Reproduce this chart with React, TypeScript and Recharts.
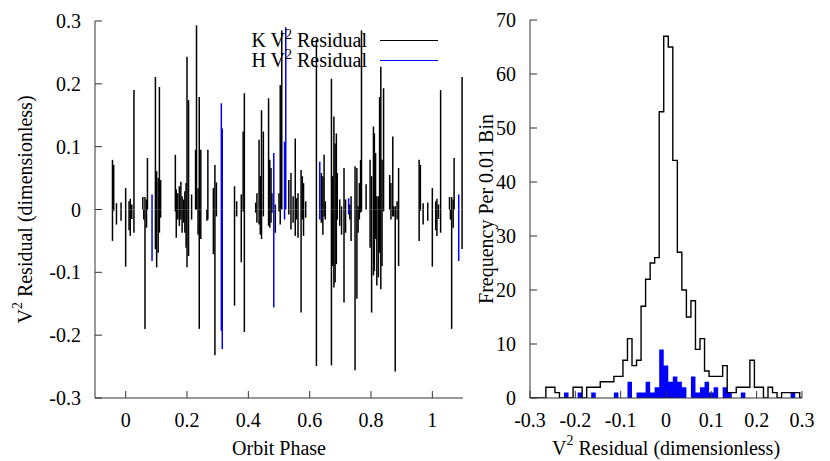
import React from "react";
import {
  ComposedChart, Scatter, ErrorBar, XAxis, YAxis, Line, Area, Legend,
} from "recharts";

// K band V^2 residuals vs orbit phase (one entry per impulse, phase folded to 0..1)
const kPhase = [
  0.000, 0.000, 0.011, 0.011, 0.015, 0.015, 0.020, 0.020, 0.027, 0.027,
  0.056, 0.059, 0.063, 0.063, 0.068, 0.068, 0.071,
  0.097, 0.097, 0.101, 0.101, 0.106, 0.106, 0.110, 0.110, 0.114, 0.114,
  0.162, 0.162, 0.165, 0.165, 0.170, 0.170, 0.175, 0.175, 0.180, 0.180,
  0.184, 0.184, 0.189, 0.189, 0.193, 0.193, 0.197, 0.197, 0.200, 0.200,
  0.205, 0.205, 0.215, 0.215, 0.228, 0.231, 0.236, 0.236, 0.240, 0.240,
  0.245, 0.245, 0.265, 0.268, 0.268, 0.286, 0.286, 0.291, 0.291, 0.296, 0.296,
  0.355, 0.355, 0.362, 0.362, 0.377, 0.377, 0.383, 0.383, 0.387, 0.387,
  0.424, 0.424, 0.428, 0.428, 0.435, 0.435, 0.439, 0.439, 0.443, 0.443,
  0.449, 0.449, 0.466, 0.466, 0.470, 0.470, 0.474, 0.474, 0.477, 0.477,
  0.488, 0.488, 0.500, 0.500, 0.504, 0.504, 0.509,
  0.532, 0.532, 0.539, 0.539, 0.546, 0.546, 0.553, 0.553, 0.557, 0.557,
  0.562, 0.562, 0.572, 0.572, 0.576, 0.576, 0.580, 0.580, 0.587, 0.587,
  0.622, 0.622, 0.638, 0.638, 0.643, 0.643, 0.647, 0.647, 0.651, 0.651,
  0.671, 0.671, 0.675, 0.675, 0.679, 0.679, 0.683, 0.683, 0.687, 0.687,
  0.690, 0.690, 0.698, 0.698, 0.704, 0.704, 0.712, 0.712, 0.717, 0.717,
  0.731, 0.731, 0.735, 0.735, 0.748, 0.748, 0.754, 0.754, 0.758, 0.758,
  0.762, 0.762, 0.766, 0.766, 0.769, 0.769, 0.784,
  0.797, 0.797, 0.802, 0.802, 0.808, 0.808, 0.811, 0.811, 0.815, 0.815,
  0.819, 0.819, 0.824, 0.824, 0.828, 0.828, 0.832, 0.832, 0.836, 0.836,
  0.841, 0.841, 0.861, 0.865, 0.865, 0.871, 0.871, 0.874, 0.874,
  0.879, 0.879, 0.885, 0.885, 0.890, 0.890,
  0.957, 0.957, 0.961, 0.961, 0.970, 0.970, 0.985, 0.985,
];
const kResid = [
  0.034, -0.091, 0.013, -0.033, 0.017, -0.042, 0.008, -0.015, 0.190, -0.037,
  0.020, -0.016, 0.020, -0.190, 0.016, -0.029, 0.082,
  0.211, -0.063, 0.061, -0.092, 0.050, -0.069, 0.195, -0.037, 0.047, -0.013,
  0.087, -0.003, 0.032, -0.045, 0.026, -0.016, 0.037, -0.026, 0.044, -0.016,
  0.021, -0.037, 0.016, -0.021, 0.029, -0.037, 0.042, -0.061, 0.243, -0.092,
  0.174, -0.074, 0.024, -0.016, 0.095, 0.293, 0.034, -0.040, 0.179, -0.190,
  0.095, -0.047, -0.018, 0.095, -0.016, 0.034, -0.071, 0.071, -0.232, 0.043, -0.011,
  0.037, -0.153, 0.013, -0.011, 0.024, -0.084, 0.124, -0.003, 0.185, -0.195,
  0.011, -0.005, 0.026, -0.021, 0.111, -0.024, 0.053, -0.040, 0.158, -0.047,
  0.124, -0.011, 0.177, -0.026, 0.079, -0.029, 0.066, -0.021, 0.026, -0.005,
  0.008, -0.037, 0.026, -0.003, 0.198, -0.024, 0.285,
  0.047, -0.008, 0.058, -0.032, 0.021, -0.021, 0.113, -0.042, 0.018, -0.016,
  0.026, -0.045, 0.063, -0.164, 0.053, -0.016, 0.042, -0.042, 0.013, -0.013,
  0.270, -0.249, 0.058, -0.021, 0.053, -0.040, 0.087, -0.011, 0.013, -0.016,
  0.208, -0.248, 0.053, -0.090, 0.148, -0.124, 0.105, -0.116, 0.121, -0.087,
  0.058, -0.016, 0.016, -0.026, 0.005, -0.040, 0.066, -0.148, 0.016, -0.037,
  0.008, -0.016, 0.021, -0.050, 0.069, -0.256, 0.066, -0.142, 0.005, -0.037,
  0.042, -0.016, 0.079, -0.005, 0.285, -0.003, 0.040,
  0.079, -0.061, 0.053, -0.164, 0.132, -0.105, 0.121, -0.098, 0.090, -0.047,
  0.021, -0.121, 0.021, -0.108, 0.179, -0.069, 0.227, -0.127, 0.079, -0.090,
  0.193, -0.003, 0.055, 0.042, -0.016, 0.116, -0.011, 0.005, -0.011,
  0.005, -0.258, 0.013, -0.016, 0.066, -0.090,
  0.079, -0.050, 0.071, -0.002, 0.010, -0.024, 0.011, -0.018,
];

// H band residuals
const hPhase = [0.086, 0.086, 0.312, 0.312, 0.315, 0.315, 0.483, 0.483, 0.518, 0.518, 0.522, 0.633, 0.633, 0.727, 0.727];
const hResid = [0.024, -0.082, 0.169, -0.193, 0.129, -0.222, 0.090, -0.156, 0.108, -0.016, 0.290, 0.076, -0.016, 0.018, -0.008];

const phaseTicks = [0, 0.2, 0.4, 0.6, 0.8, 1];
const residTicks = [-0.3, -0.2, -0.1, 0, 0.1, 0.2, 0.3];

// histogram, 0.01 bins
const binCenters = [
  -0.30, -0.29, -0.28, -0.27, -0.26, -0.25, -0.24, -0.23, -0.22, -0.21,
  -0.20, -0.19, -0.18, -0.17, -0.16, -0.15, -0.14, -0.13, -0.12, -0.11,
  -0.10, -0.09, -0.08, -0.07, -0.06, -0.05, -0.04, -0.03, -0.02, -0.01,
  0.00, 0.01, 0.02, 0.03, 0.04, 0.05, 0.06, 0.07, 0.08, 0.09,
  0.10, 0.11, 0.12, 0.13, 0.14, 0.15, 0.16, 0.17, 0.18, 0.19,
  0.20, 0.21, 0.22, 0.23, 0.24, 0.25, 0.26, 0.27, 0.28, 0.29,
  0.30,
];
const kCounts = [
  0, 0, 0, 0, 2, 2, 1, 0, 0, 0,
  2, 2, 0, 2, 2, 2, 3, 3, 3, 4,
  4, 7, 11, 6, 7, 17, 22, 25, 26, 53,
  67, 65, 44, 27, 20, 15, 18, 9, 11, 5,
  4, 4, 4, 6, 1, 1, 2, 2, 2, 7,
  2, 2, 0, 2, 1, 0, 1, 1, 1, 1,
  0,
];
const hCounts = [
  0, 0, 0, 0, 0, 0, 0, 0, 1, 0,
  0, 1, 0, 0, 1, 0, 0, 0, 0, 1,
  0, 0, 3, 0, 1, 1, 3, 1, 2, 9,
  6, 3, 4, 3, 2, 0, 4, 1, 2, 3,
  1, 2, 0, 2, 1, 0, 0, 1, 0, 0,
  0, 0, 0, 0, 0, 0, 0, 0, 1, 0,
  0,
];
const residBinTicks = [-0.3, -0.2, -0.1, 0, 0.1, 0.2, 0.3];
const freqTicks = [0, 10, 20, 30, 40, 50, 60, 70];

const FONT = '"Liberation Serif", "DejaVu Serif", serif';
const AXIS = "#333";
const tickStyle = { fill: "#000", fontSize: 20, fontFamily: FONT };

// impulses: error bar from 0 to the value; repeat across the shown phase range
function impulses(phase: number[], resid: number[]) {
  const rows: any[] = [];
  phase.forEach((p, i) => {
    const v = resid[i];
    [-1, 0, 1].forEach((s) => {
      const x = p + s;
      if (x < -0.1 || x > 1.1) return;
      rows.push({ x, v, err: v > 0 ? [v, 0] : [0, -v] });
    });
  });
  return rows;
}
const kRows = impulses(kPhase, kResid);
const hRows = impulses(hPhase, hResid);

const histRows = binCenters.map((c, i) => ({ x: c - 0.005, k: kCounts[i], h: hCounts[i] }));
histRows.push({ x: binCenters[binCenters.length - 1] + 0.005, k: kCounts[kCounts.length - 1], h: hCounts[hCounts.length - 1] });

const noShape = () => <g />;

const V2 = ({ rest }: { rest: string }) => (
  <>
    V<tspan dy={-8} fontSize={14}>2</tspan><tspan dy={8}>{rest}</tspan>
  </>
);

const AxisText = ({ x, y, rotate, children }: any) => (
  <text
    x={x} y={y} textAnchor="middle" dominantBaseline="central"
    fontSize={20} fontFamily={FONT} fill="#000"
    transform={rotate ? `rotate(-90 ${x} ${y})` : undefined}
  >
    {children}
  </text>
);

const LegendBox = () => {
  const row = (label: string, color: string) => (
    <div style={{ display: "flex", alignItems: "center", height: 20 }}>
      <span style={{ width: 127, textAlign: "right", fontSize: 20, lineHeight: "20px", fontFamily: FONT, whiteSpace: "nowrap" }}>
        {label} V<sup style={{ fontSize: 14, verticalAlign: "8px", lineHeight: 0 }}>2</sup> Residual
      </span>
      <span style={{ width: 58, marginLeft: 13, borderTop: `1.3px solid ${color}` }} />
    </div>
  );
  return (
    <div>
      {row("K", "#000")}
      {row("H", "#0000ff")}
    </div>
  );
};

export default function App() {
  return (
    <div style={{ position: "absolute", left: 0, top: 0, width: 830, height: 461, background: "#fff", display: "flex" }}>
      <ComposedChart width={470} height={461} margin={{ top: 21, right: 7, bottom: 3, left: 0 }}>
        <XAxis
          xAxisId="b" type="number" dataKey="x" domain={[-0.1, 1.1]} ticks={phaseTicks} allowDataOverflow
          height={60} tickSize={-7} tickMargin={22} stroke={AXIS} tick={tickStyle}
          label={{ content: ({ viewBox }: any) => <AxisText x={viewBox.x + viewBox.width / 2} y={viewBox.y + 50}>Orbit Phase</AxisText> }}
        />
        <XAxis xAxisId="t" orientation="top" type="number" dataKey="x" domain={[-0.1, 1.1]} ticks={phaseTicks} allowDataOverflow height={0} tickSize={-7} tick={false} stroke={AXIS} />
        <YAxis
          yAxisId="l" type="number" domain={[-0.3, 0.3]} ticks={residTicks} allowDataOverflow
          width={95} tickSize={-7} tickMargin={21} stroke={AXIS} tick={tickStyle}
          label={{ content: ({ viewBox }: any) => <AxisText x={viewBox.x + 25} y={viewBox.y + viewBox.height / 2} rotate><V2 rest=" Residual (dimensionless)" /></AxisText> }}
        />
        <YAxis yAxisId="r" orientation="right" type="number" domain={[-0.3, 0.3]} ticks={residTicks} allowDataOverflow width={0} tickSize={-7} tick={false} stroke={AXIS} />
        <Legend
          layout="horizontal" verticalAlign="middle" align="center"
          wrapperStyle={{ top: 30, left: 240, width: 200, height: 40 }}
          content={() => <LegendBox />}
        />
        <Scatter xAxisId="b" yAxisId="l" data={kRows} dataKey="v" name="K" shape={noShape} isAnimationActive={false}>
          <ErrorBar dataKey="err" direction="y" width={0} stroke="#000" strokeWidth={1.5} isAnimationActive={false} />
        </Scatter>
        <Scatter xAxisId="b" yAxisId="l" data={hRows} dataKey="v" name="H" shape={noShape} isAnimationActive={false}>
          <ErrorBar dataKey="err" direction="y" width={0} stroke="#0000ff" strokeWidth={1.5} isAnimationActive={false} />
        </Scatter>
      </ComposedChart>

      <ComposedChart width={360} height={461} data={histRows} margin={{ top: 20, right: 28, bottom: 3, left: 0 }}>
        <XAxis
          xAxisId="b" type="number" dataKey="x" domain={[-0.3, 0.3]} ticks={residBinTicks} allowDataOverflow
          height={60} tickSize={-7} tickMargin={22} stroke={AXIS} tick={tickStyle}
          label={{ content: ({ viewBox }: any) => <AxisText x={viewBox.x + viewBox.width / 2} y={viewBox.y + 50}><V2 rest=" Residual (dimensionless)" /></AxisText> }}
        />
        <XAxis xAxisId="t" orientation="top" type="number" dataKey="x" domain={[-0.3, 0.3]} ticks={residBinTicks} allowDataOverflow height={0} tickSize={-7} tick={false} stroke={AXIS} />
        <YAxis
          yAxisId="l" type="number" domain={[0, 70]} ticks={freqTicks} allowDataOverflow
          width={60} tickSize={-7} tickMargin={21} stroke={AXIS} tick={tickStyle}
          label={{ content: ({ viewBox }: any) => <AxisText x={viewBox.x + 16} y={viewBox.y + viewBox.height / 2} rotate>Frequency Per 0.01 Bin</AxisText> }}
        />
        <YAxis yAxisId="r" orientation="right" type="number" domain={[0, 70]} ticks={freqTicks} allowDataOverflow width={0} tickSize={-7} tick={false} stroke={AXIS} />
        <Area xAxisId="b" yAxisId="l" type="stepAfter" dataKey="h" fill="#0000ff" fillOpacity={1} stroke="none" baseValue={0} isAnimationActive={false} dot={false} activeDot={false} />
        <Line xAxisId="b" yAxisId="l" type="stepAfter" dataKey="k" stroke="#000" strokeWidth={1.4} dot={false} activeDot={false} isAnimationActive={false} />
      </ComposedChart>
    </div>
  );
}
